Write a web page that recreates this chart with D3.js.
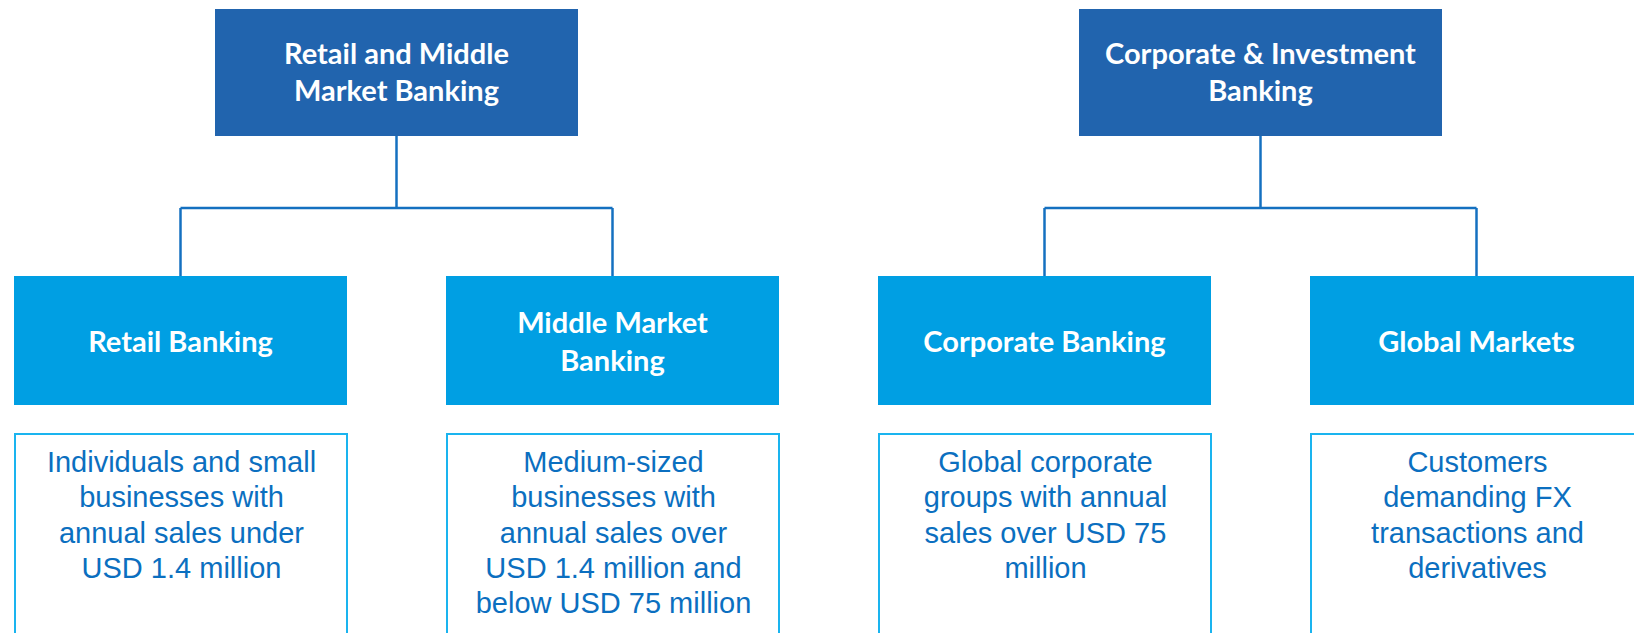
<!DOCTYPE html>
<html>
<head>
<meta charset="utf-8">
<script src="https://cdn.jsdelivr.net/npm/d3@7"></script>
<style>
  html, body { margin: 0; padding: 0; background: #fff; overflow: hidden; }
  svg { display: block; }
</style>
</head>
<body>
<svg id="chart" width="1634" height="633"></svg>
<script>
// org chart data
var groups = ['Retail and Middle Market Banking', 'Corporate & Investment Banking'];
var groupLines = [['Retail and Middle', 'Market Banking'], ['Corporate & Investment', 'Banking']];
var units = ['Retail Banking', 'Middle Market Banking', 'Corporate Banking', 'Global Markets'];
var unitLines = [['Retail Banking'], ['Middle Market', 'Banking'], ['Corporate Banking'], ['Global Markets']];
var unitParent = [0, 0, 1, 1];
var descLines = [
  ['Individuals and small', 'businesses with', 'annual sales under', 'USD 1.4 million'],
  ['Medium-sized', 'businesses with', 'annual sales over', 'USD 1.4 million and', 'below USD 75 million'],
  ['Global corporate', 'groups with annual', 'sales over USD 75', 'million'],
  ['Customers', 'demanding FX', 'transactions and', 'derivatives']
];

var topColor = '#2164ae', unitColor = '#009fe3', lineColor = '#1470c0',
    descColor = '#0b6fc0', descBorder = '#1ab4ef';

var svg = d3.select('#chart');

var x = d3.scaleBand()
  .domain(units)
  .range([14, 14 + 4 * 432 - 99])
  .paddingInner(99 / 432)
  .paddingOuter(0);
var bw = x.bandwidth();

// vertical layout
var topY = 9, topH = 127, topW = 363;
var busY = 208;
var unitY = 276, unitH = 129;
var descY = 434;

function cx(u) { return x(u) + bw / 2; }

// center of each group = middle of its children
var groupCx = groups.map(function(g, gi) {
  var kids = units.filter(function(u, i) { return unitParent[i] == gi; });
  return d3.mean(kids, cx);
});

// connectors
var links = svg.append('g').attr('fill', 'none').attr('stroke', lineColor).attr('stroke-width', 2.5);
groups.forEach(function(g, gi) {
  var kids = units.filter(function(u, i) { return unitParent[i] == gi; });
  links.append('line')
    .attr('x1', groupCx[gi]).attr('x2', groupCx[gi])
    .attr('y1', topY + topH).attr('y2', busY);
  links.append('line')
    .attr('x1', d3.min(kids, cx)).attr('x2', d3.max(kids, cx))
    .attr('y1', busY).attr('y2', busY);
  kids.forEach(function(u) {
    links.append('line')
      .attr('x1', cx(u)).attr('x2', cx(u))
      .attr('y1', busY).attr('y2', unitY);
  });
});

function addLines(sel, lines, midY, lh, capH) {
  var first = midY - ((lines.length - 1) * lh + capH) / 2 + capH;
  lines.forEach(function(t, i) {
    sel.append('tspan').attr('x', sel.attr('x')).attr('y', first + i * lh).text(t);
  });
}

// top boxes
var tops = svg.selectAll('g.top').data(groups).join('g').attr('class', 'top');
tops.append('rect')
  .attr('x', function(d, i) { return groupCx[i] - topW / 2; })
  .attr('y', topY).attr('width', topW).attr('height', topH)
  .attr('fill', topColor);
tops.each(function(d, i) {
  var t = d3.select(this).append('text')
    .attr('x', groupCx[i])
    .attr('text-anchor', 'middle')
    .attr('fill', '#fff')
    .style('font-family', 'Lato, "Open Sans", sans-serif')
    .style('font-weight', 'bold')
    .style('font-size', '29px');
  addLines(t, groupLines[i], topY + topH / 2, 37.5, 20);
});

// unit boxes
var us = svg.selectAll('g.unit').data(units).join('g').attr('class', 'unit');
us.append('rect')
  .attr('x', function(d) { return x(d); })
  .attr('y', unitY).attr('width', bw).attr('height', unitH)
  .attr('fill', unitColor);
us.each(function(d, i) {
  var t = d3.select(this).append('text')
    .attr('x', cx(d))
    .attr('text-anchor', 'middle')
    .attr('fill', '#fff')
    .style('font-family', 'Lato, "Open Sans", sans-serif')
    .style('font-weight', 'bold')
    .style('font-size', '29px');
  addLines(t, unitLines[i], unitY + unitH / 2 + 1, 38, 20);
});

// description boxes
var ds = svg.selectAll('g.desc').data(units).join('g').attr('class', 'desc');
ds.append('rect')
  .attr('x', function(d) { return x(d) + 1; })
  .attr('y', descY).attr('width', bw - 1).attr('height', 260)
  .attr('fill', '#fff')
  .attr('stroke', descBorder).attr('stroke-width', 2);
ds.each(function(d, i) {
  var t = d3.select(this).append('text')
    .attr('x', cx(d) + 1)
    .attr('text-anchor', 'middle')
    .attr('fill', descColor)
    .style('font-family', '"Liberation Sans", Arial, sans-serif')
    .style('font-size', '29px');
  descLines[i].forEach(function(s, j) {
    t.append('tspan').attr('x', cx(d) + 1).attr('y', descY + 38 + j * 35.3).text(s);
  });
});
</script>
</body>
</html>
